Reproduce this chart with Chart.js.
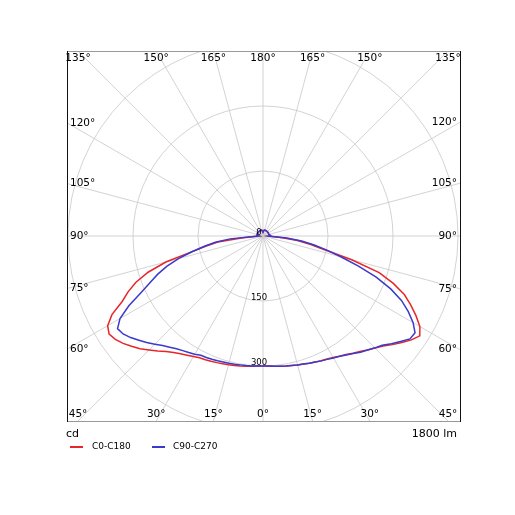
<!DOCTYPE html>
<html>
<head>
<meta charset="utf-8">
<script src="https://cdn.jsdelivr.net/npm/chart.js@4.4.1/dist/chart.umd.min.js"></script>
<style>
 html, body { margin: 0; padding: 0; background: #fff; }
 body { width: 515px; height: 515px; position: relative; overflow: hidden; font-family: "DejaVu Sans", sans-serif; color: #000; }
 #wrap { position: absolute; left: -10px; top: -37px; width: 546px; height: 546px; }
 .txt { position: absolute; font-size: 11px; line-height: 11px; white-space: nowrap; }
 .leg { position: absolute; font-size: 9px; line-height: 9px; white-space: nowrap; }
 .sw { position: absolute; width: 13px; height: 1.5px; }
</style>
</head>
<body>
<div id="wrap"><canvas id="polar" width="546" height="546"></canvas></div>
<div class="txt" style="left:66px; top:428px;">cd</div>
<div class="txt" style="right:58px; top:428px;">1800 lm</div>
<div id="legend"></div>
<script>
// gamma angles (deg, 0 = straight down) for one half-plane
const gamma = [0, 2.5, 5, 7.5, 10, 12.5, 15, 17.5, 20, 22.5, 25, 27.5, 30, 32.5, 35, 37.5, 40, 42.5, 45,
 47.5, 50, 52.5, 55, 57.5, 60, 62.5, 65, 67.5, 70, 72.5, 75, 77.5, 80, 82.5, 85, 87.5, 90,
 92.5, 95, 97.5, 100, 102.5, 105, 107.5, 110, 112.5, 115, 117.5, 120, 122.5, 125, 127.5, 130, 132.5, 135,
 137.5, 140, 142.5, 145, 147.5, 150, 152.5, 155, 157.5, 160, 162.5, 165, 167.5, 170, 172.5, 175, 177.5, 180];

// intensities in cd
const c0 = [300, 300.5, 301.5, 303, 304.5, 306, 308, 310, 312.5, 315, 317.5, 320, 324, 329, 334, 341, 348, 357, 366,
 376, 390, 404, 418, 429, 418, 398, 376, 353, 320, 281, 212, 144, 112, 80, 45, 16, 12,
 16, 17, 16, 15, 14, 14, 14, 14, 14, 14, 14, 14, 14, 14, 14, 14, 14, 14,
 14, 14, 14, 14, 14, 14, 14, 14, 14, 14, 14, 14, 14, 13, 12, 11, 10, 9];
const c180 = [300, 300.5, 302, 303, 304.5, 306, 307.5, 309, 311, 313, 315, 317, 321, 326, 332, 339, 348, 360, 372,
 385, 396, 407, 416, 421, 414, 393, 359, 337, 312, 278, 232, 169, 133, 105, 50, 14, 10,
 12, 14, 14, 14, 14, 14, 14, 14, 14, 14, 14, 14, 14, 14, 14, 14, 14, 14,
 14, 14, 14, 14, 14, 14, 14, 14, 14, 14, 14, 14, 14, 13, 12, 11, 10, 9];
const c90 = [300, 300.5, 301.5, 303, 304.5, 306, 308, 310, 312.5, 315, 318, 321, 325, 329, 335, 342, 350, 357, 365,
 373, 387, 400, 414, 416, 400, 378, 353, 319, 278, 231, 187, 151, 120, 90, 55, 16, 12,
 16, 17, 16, 15, 14, 14, 14, 14, 14, 14, 14, 14, 14, 14, 14, 14, 14, 14,
 14, 14, 14, 14, 14, 14, 14, 14, 14, 14, 14, 14, 14, 13, 12, 11, 10, 9];
const c270 = [300, 300.5, 301, 301.5, 302, 303, 304, 305, 306.5, 308, 309.5, 310.5, 315, 319, 323, 328, 335, 343, 353,
 364, 374, 385, 394, 398, 381, 349, 312, 283, 259, 233, 202, 168, 137, 111, 76, 16, 10,
 12, 14, 14, 14, 14, 14, 14, 14, 14, 14, 14, 14, 14, 14, 14, 14, 14, 14,
 14, 14, 14, 14, 14, 14, 14, 14, 14, 14, 14, 14, 14, 13, 12, 11, 10, 9];

const seriesNames = ['C0-C180', 'C90-C270'];
const seriesColors = ['#e8262a', '#3a3acc'];
const ringValues = [150, 300, 450];
const tickLabels = [0, 150, 300];
const spokeStep = 15;
const rMax = 630;

// left half goes bottom -> top (clockwise from bottom), right half comes back top -> bottom
const labels = gamma.concat(gamma.slice(1, -1).reverse());
function fullCircle(left, right) {
 return left.concat(right.slice(1, -1).reverse());
}

// html legend
const legendEl = document.getElementById('legend');
const legX = [[70, 92], [152, 173]];
seriesNames.forEach((name, i) => {
 legendEl.insertAdjacentHTML('beforeend',
  `<div class="sw" style="left:${legX[i][0]}px; top:446px; background:${seriesColors[i]};"></div>` +
  `<div class="leg" style="left:${legX[i][1]}px; top:442px;">${name}</div>`);
});

function frameBox(r) {
 return { left: r.xCenter - 196, right: r.xCenter + 197, top: r.yCenter - 185, bottom: r.yCenter + 185 };
}

const framePlugin = {
 id: 'frame',
 beforeDraw(chart) {
  const b = frameBox(chart.scales.r);
  const ctx = chart.ctx;
  ctx.save();
  ctx.beginPath();
  ctx.rect(b.left, b.top, b.right - b.left, b.bottom - b.top);
  ctx.clip();
 },
 afterDraw(chart) {
  const ctx = chart.ctx;
  ctx.restore();
  const r = chart.scales.r;
  const b = frameBox(r);
  const cx = r.xCenter, cy = r.yCenter;

  // box
  ctx.save();
  ctx.lineWidth = 1;
  ctx.strokeStyle = '#999';
  ctx.beginPath();
  ctx.moveTo(b.left, b.top + 0.5); ctx.lineTo(b.right, b.top + 0.5);
  ctx.moveTo(b.left, b.bottom + 0.5); ctx.lineTo(b.right, b.bottom + 0.5);
  ctx.stroke();
  ctx.strokeStyle = '#111';
  ctx.beginPath();
  ctx.moveTo(b.left + 0.5, b.top); ctx.lineTo(b.left + 0.5, b.bottom + 1);
  ctx.moveTo(b.right + 0.5, b.top); ctx.lineTo(b.right + 0.5, b.bottom + 1);
  ctx.stroke();

  // angle labels where the spokes meet the box
  ctx.fillStyle = '#000';
  ctx.font = '10.5px "DejaVu Sans", sans-serif';
  labels.forEach((lab, i) => {
   if (lab % spokeStep !== 0) return;
   const p = r.getPointPosition(i, r.drawingArea);
   const dx = p.x - cx, dy = p.y - cy;
   const tx = Math.abs(dx) < 1e-6 ? Infinity : (dx > 0 ? (b.right - cx) / dx : (b.left - cx) / dx);
   const ty = Math.abs(dy) < 1e-6 ? Infinity : (dy > 0 ? (b.bottom - cy) / dy : (b.top - cy) / dy);
   const text = lab + '°';
   ctx.textBaseline = 'middle';
   if (ty <= tx) {
    ctx.textAlign = 'center';
    ctx.fillText(text, cx + dx * ty, dy > 0 ? b.bottom - 7 : b.top + 7);
   } else {
    const y = cy + dy * tx;
    if (dx < 0) { ctx.textAlign = 'left'; ctx.fillText(text, b.left + 3, y); }
    else { ctx.textAlign = 'right'; ctx.fillText(text, b.right - 3, y); }
   }
  });

  // radial tick labels along the 0 deg spoke
  ctx.font = '8.5px "DejaVu Sans", sans-serif';
  ctx.textAlign = 'center';
  ctx.textBaseline = 'middle';
  tickLabels.forEach(v => {
   const p = r.getPointPosition(0, r.getDistanceFromCenterForValue(v));
   ctx.fillText(String(v), p.x - 4, p.y - 3);
  });
  ctx.restore();
 }
};

new Chart(document.getElementById('polar').getContext('2d'), {
 type: 'radar',
 data: {
  labels: labels,
  datasets: [
   { label: seriesNames[0], data: fullCircle(c180, c0), borderColor: seriesColors[0], order: 1 },
   { label: seriesNames[1], data: fullCircle(c270, c90), borderColor: seriesColors[1], order: 0 }
  ]
 },
 options: {
  responsive: false,
  animation: false,
  layout: { padding: 0 },
  elements: {
   point: { radius: 0, hoverRadius: 0 },
   line: { borderWidth: 1.5, tension: 0, fill: false }
  },
  plugins: { legend: { display: false }, tooltip: { enabled: false } },
  scales: {
   r: {
    startAngle: 180,
    min: 0,
    max: rMax,
    ticks: { display: false, stepSize: 150 },
    pointLabels: { display: false },
    grid: {
     circular: true,
     lineWidth: 0.8,
     color: c => ringValues.includes(c.tick && c.tick.value) ? '#c8c8c8' : 'rgba(0,0,0,0)'
    },
    angleLines: {
     lineWidth: 0.8,
     color: c => labels[c.index] % spokeStep === 0 ? '#c8c8c8' : 'rgba(0,0,0,0)'
    }
   }
  }
 },
 plugins: [framePlugin]
});
</script>
</body>
</html>
